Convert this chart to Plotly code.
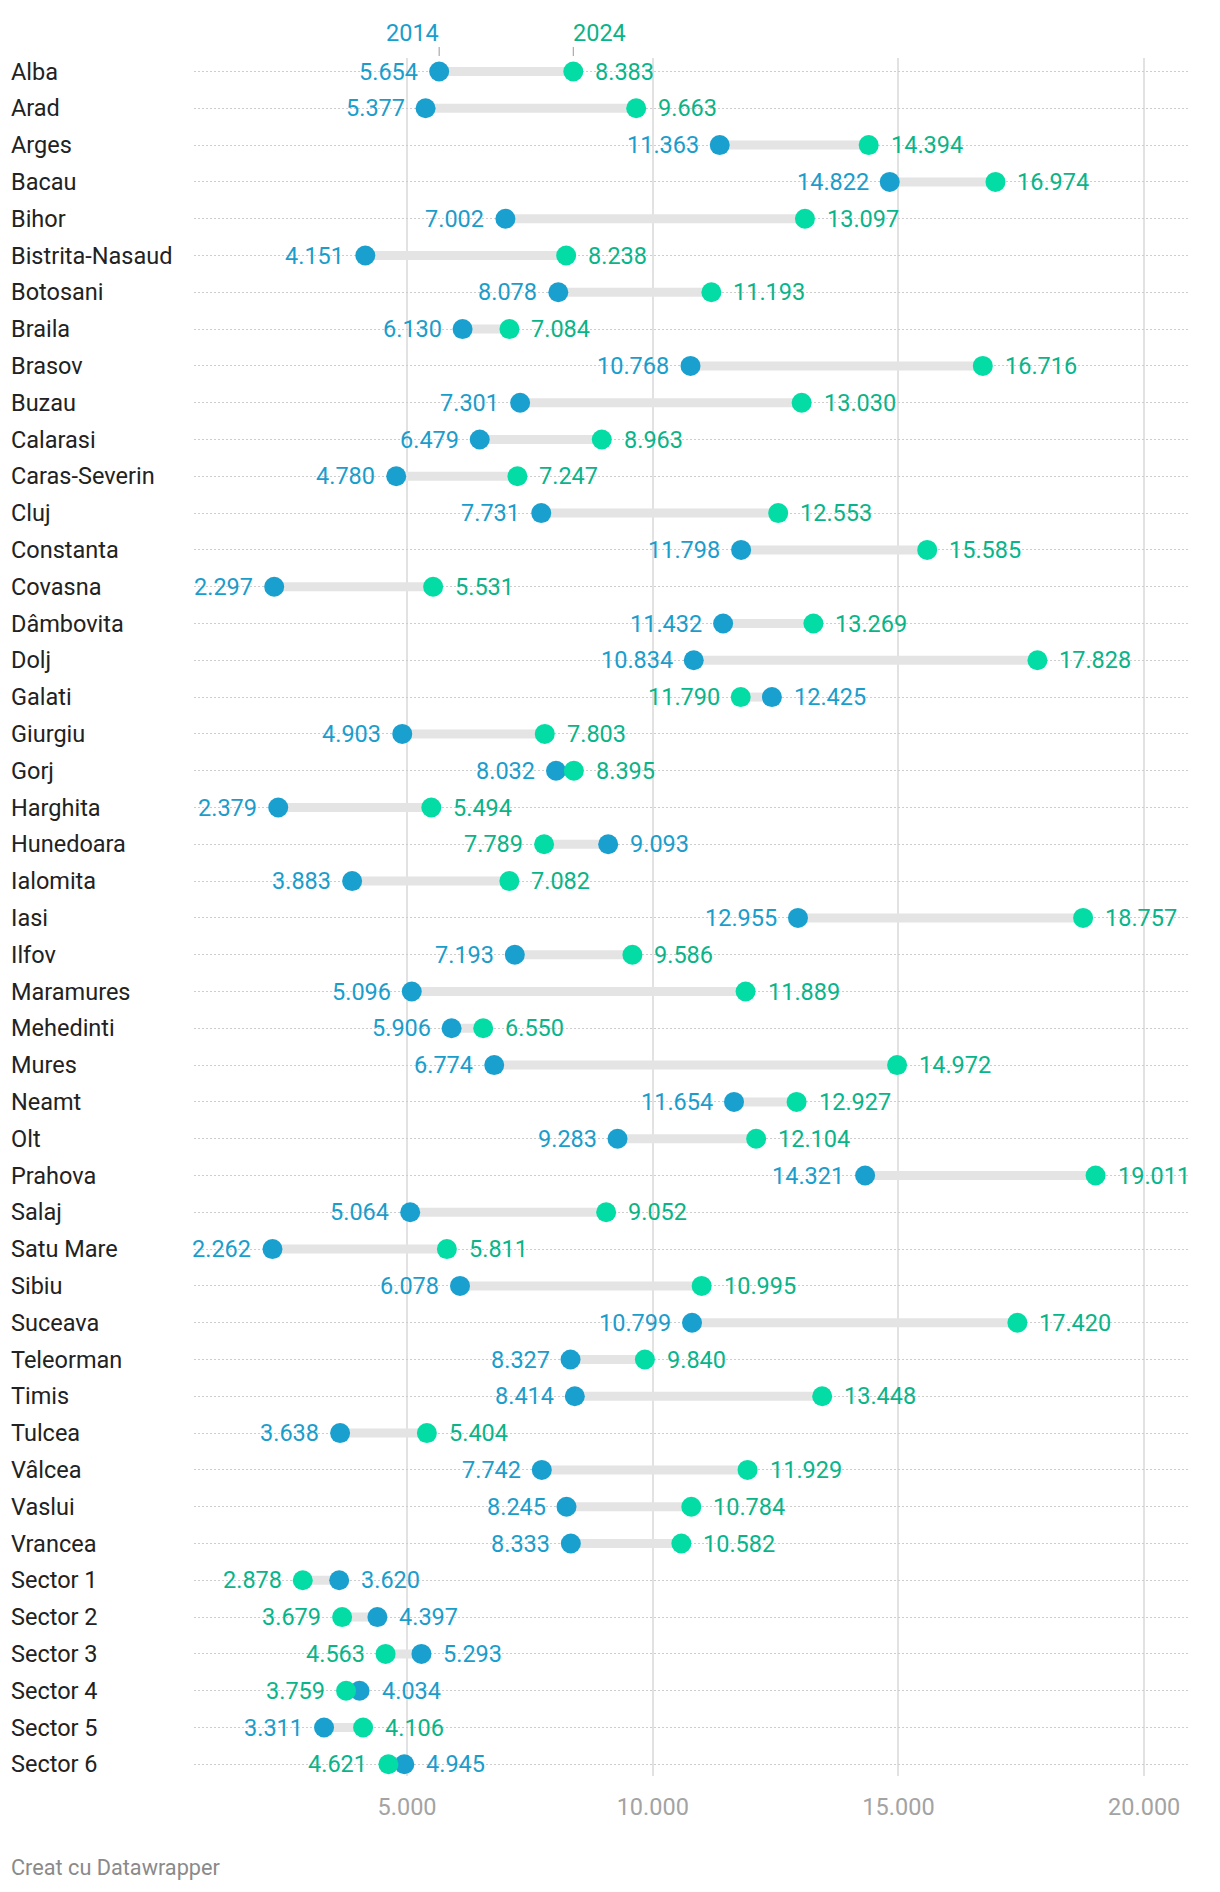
import plotly.graph_objects as go

regions = ["Alba", "Arad", "Arges", "Bacau", "Bihor", "Bistrita-Nasaud", "Botosani", "Braila",
           "Brasov", "Buzau", "Calarasi", "Caras-Severin", "Cluj", "Constanta", "Covasna",
           "Dâmbovita", "Dolj", "Galati", "Giurgiu", "Gorj", "Harghita", "Hunedoara", "Ialomita",
           "Iasi", "Ilfov", "Maramures", "Mehedinti", "Mures", "Neamt", "Olt", "Prahova", "Salaj",
           "Satu Mare", "Sibiu", "Suceava", "Teleorman", "Timis", "Tulcea", "Vâlcea", "Vaslui",
           "Vrancea", "Sector 1", "Sector 2", "Sector 3", "Sector 4", "Sector 5", "Sector 6"]

v2014 = [5654, 5377, 11363, 14822, 7002, 4151, 8078, 6130, 10768, 7301, 6479, 4780, 7731,
         11798, 2297, 11432, 10834, 12425, 4903, 8032, 2379, 9093, 3883, 12955, 7193, 5096,
         5906, 6774, 11654, 9283, 14321, 5064, 2262, 6078, 10799, 8327, 8414, 3638, 7742,
         8245, 8333, 3620, 4397, 5293, 4034, 3311, 4945]

v2024 = [8383, 9663, 14394, 16974, 13097, 8238, 11193, 7084, 16716, 13030, 8963, 7247, 12553,
         15585, 5531, 13269, 17828, 11790, 7803, 8395, 5494, 7789, 7082, 18757, 9586, 11889,
         6550, 14972, 12927, 12104, 19011, 9052, 5811, 10995, 17420, 9840, 13448, 5404, 11929,
         10784, 10582, 2878, 3679, 4563, 3759, 4106, 4621]

series_names = ["2014", "2024"]
tick_values = [5000, 10000, 15000, 20000]
tick_labels = ["5.000", "10.000", "15.000", "20.000"]
footer_text = "Creat cu Datawrapper"

BLUE = "#1aa0cf"
BLUE_TXT = "#1b9dcc"
GREEN = "#04dca5"
GREEN_TXT = "#0ab489"
FONT = "Roboto"
FS = 23.5


def fmt(v):
    return f"{v:,}".replace(",", ".")


W, H = 1220, 1892
L, R, T, B = 194, 31, 58, 116
plot_h = H - T - B

fig = go.Figure()

# connectors
cx, cy = [], []
for name, a, b in zip(regions, v2014, v2024):
    cx += [a, b, None]
    cy += [name, name, None]
fig.add_trace(go.Scatter(x=cx, y=cy, mode="lines", line=dict(color="#e4e4e4", width=9),
                         hoverinfo="skip", showlegend=False))

fig.add_trace(go.Scatter(x=v2014, y=regions, mode="markers", name=series_names[0],
                         marker=dict(color=BLUE, size=20, line=dict(width=0)), showlegend=False))
fig.add_trace(go.Scatter(x=v2024, y=regions, mode="markers", name=series_names[1],
                         marker=dict(color=GREEN, size=20, line=dict(width=0)), showlegend=False))

annotations = []
GAP = 19
for name, a, b in zip(regions, v2014, v2024):
    # row label
    annotations.append(dict(x=(9 - L) / (W - L - R), xref="paper", y=name, yref="y",
                            text=name, showarrow=False, xanchor="left", yanchor="middle",
                            font=dict(family=FONT, size=FS, color="#222222")))
    for val, col, other in ((a, BLUE_TXT, b), (b, GREEN_TXT, a)):
        left = val <= other
        annotations.append(dict(x=val, xref="x", y=name, yref="y", text=fmt(val),
                                showarrow=False, xanchor="right" if left else "left",
                                yanchor="middle", xshift=-GAP if left else GAP + 1,
                                font=dict(family=FONT, size=FS, color=col)))

# header labels above first row
hy = 1 + (T - 33) / plot_h
annotations.append(dict(x=v2014[0], xref="x", y=hy, yref="paper", text=series_names[0],
                        showarrow=False, xanchor="right", yanchor="middle", xshift=2,
                        font=dict(family=FONT, size=FS, color=BLUE_TXT)))
annotations.append(dict(x=v2024[0], xref="x", y=hy, yref="paper", text=series_names[1],
                        showarrow=False, xanchor="left", yanchor="middle", xshift=-2,
                        font=dict(family=FONT, size=FS, color=GREEN_TXT)))
shapes = []
for val in (v2014[0], v2024[0]):
    shapes.append(dict(type="line", xref="x", yref="paper", x0=val, x1=val,
                       y0=1 + (T - 47) / plot_h, y1=1 + (T - 56) / plot_h,
                       line=dict(color="#999999", width=1)))

annotations.append(dict(x=(9 - L) / (W - L - R), xref="paper", y=(H - B - 1867) / plot_h,
                        yref="paper", text=footer_text, showarrow=False, xanchor="left",
                        yanchor="middle", font=dict(family=FONT, size=21.7, color="#8a8a8a")))

fig.update_layout(
    width=W, height=H,
    margin=dict(l=L, r=R, t=T, b=B, pad=0),
    paper_bgcolor="white", plot_bgcolor="white",
    showlegend=False,
    annotations=annotations,
    shapes=shapes,
    xaxis=dict(range=[665, 20912], tickvals=tick_values, ticktext=tick_labels,
               showgrid=True, gridcolor="#e2e2e2", gridwidth=1.5, zeroline=False,
               showline=False, ticks="", ticklabelstandoff=14,
               tickfont=dict(family=FONT, size=FS, color="#a3a3a3"), fixedrange=True),
    yaxis=dict(type="category", categoryarray=regions, categoryorder="array",
               range=[(H - B - 71.5) / 36.8, (T - 71.5) / 36.8],
               showgrid=True, gridcolor="#cdcdcd", gridwidth=1, griddash="2px,2px",
               zeroline=False, showline=False, showticklabels=False, ticks="",
               fixedrange=True),
    font=dict(family=FONT),
)

fig.write_html("out.html", config={"displayModeBar": False},
               post_script="document.body.style.margin='0';document.body.style.overflow='hidden';")
